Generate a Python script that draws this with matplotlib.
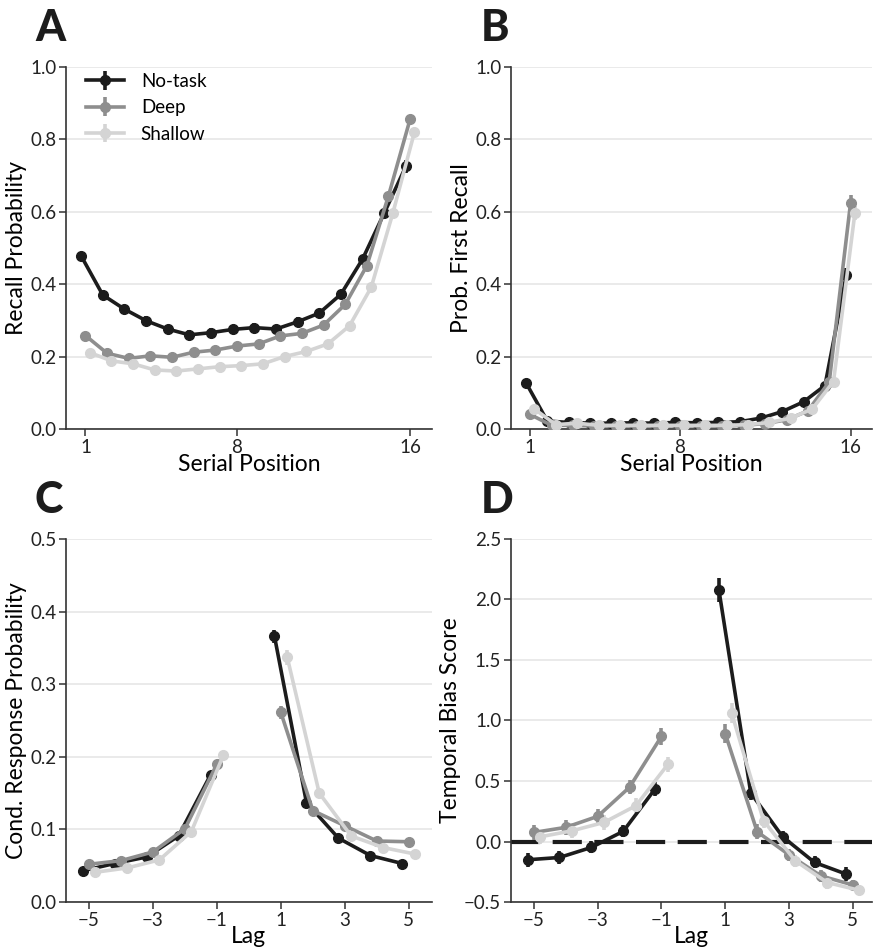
import numpy as np
import matplotlib
matplotlib.use("Agg")
import matplotlib.pyplot as plt

plt.rcParams['font.family'] = ['Lato', 'DejaVu Sans']

conditions = ["No-task", "Deep", "Shallow"]
colors = ["#1c1c1c", "#8e8e8e", "#d4d4d4"]
offsets = [-0.2, 0.0, 0.2]

serial_pos = np.arange(1, 17)
lags = np.array([-5, -4, -3, -2, -1, 1, 2, 3, 4, 5])

# A: serial position curve
spc = {
    "No-task": [0.478, 0.370, 0.331, 0.299, 0.276, 0.260, 0.266, 0.275,
                0.280, 0.276, 0.296, 0.320, 0.372, 0.469, 0.596, 0.725],
    "Deep": [0.258, 0.209, 0.195, 0.202, 0.198, 0.212, 0.218, 0.229,
             0.235, 0.257, 0.264, 0.287, 0.344, 0.451, 0.644, 0.856],
    "Shallow": [0.211, 0.188, 0.180, 0.163, 0.160, 0.166, 0.172, 0.175,
                0.180, 0.200, 0.214, 0.235, 0.285, 0.391, 0.596, 0.820],
}
spc_err = {
    "No-task": [0.012] * 15 + [0.018],
    "Deep": [0.010] * 15 + [0.012],
    "Shallow": [0.010] * 15 + [0.012],
}

# B: probability of first recall
pfr = {
    "No-task": [0.128, 0.022, 0.018, 0.016, 0.016, 0.017, 0.016, 0.018,
                0.017, 0.018, 0.020, 0.030, 0.048, 0.075, 0.120, 0.425],
    "Deep": [0.040, 0.010, 0.010, 0.008, 0.008, 0.008, 0.008, 0.009,
             0.008, 0.008, 0.010, 0.015, 0.025, 0.050, 0.130, 0.625],
    "Shallow": [0.055, 0.012, 0.016, 0.010, 0.010, 0.010, 0.010, 0.010,
                0.010, 0.010, 0.012, 0.018, 0.030, 0.055, 0.131, 0.596],
}
pfr_err = {
    "No-task": [0.01] * 15 + [0.02],
    "Deep": [0.006] * 15 + [0.02],
    "Shallow": [0.006] * 15 + [0.02],
}

# C: lag-CRP
crp = {
    "No-task": [0.043, 0.053, 0.062, 0.091, 0.175, 0.366, 0.137, 0.088, 0.064, 0.053],
    "Deep": [0.052, 0.057, 0.069, 0.101, 0.190, 0.261, 0.126, 0.105, 0.084, 0.083],
    "Shallow": [0.041, 0.047, 0.058, 0.097, 0.202, 0.337, 0.150, 0.091, 0.075, 0.066],
}
crp_err = {
    "No-task": [0.003, 0.003, 0.003, 0.004, 0.006, 0.009, 0.005, 0.004, 0.003, 0.003],
    "Deep": [0.003, 0.003, 0.003, 0.004, 0.006, 0.009, 0.005, 0.004, 0.003, 0.003],
    "Shallow": [0.003, 0.003, 0.003, 0.004, 0.006, 0.010, 0.005, 0.004, 0.003, 0.003],
}

# D: temporal bias score
tbs = {
    "No-task": [-0.151, -0.132, -0.049, 0.084, 0.435, 2.080, 0.401, 0.039, -0.173, -0.270],
    "Deep": [0.075, 0.117, 0.208, 0.449, 0.869, 0.891, 0.081, -0.110, -0.284, -0.359],
    "Shallow": [0.039, 0.089, 0.158, 0.296, 0.637, 1.062, 0.172, -0.160, -0.339, -0.403],
}
tbs_err = {
    "No-task": [0.06, 0.05, 0.05, 0.05, 0.06, 0.10, 0.06, 0.05, 0.05, 0.06],
    "Deep": [0.06, 0.06, 0.06, 0.06, 0.07, 0.08, 0.06, 0.05, 0.05, 0.04],
    "Shallow": [0.06, 0.06, 0.06, 0.06, 0.06, 0.08, 0.06, 0.05, 0.05, 0.04],
}


def style_axes(ax, ylim, yticks):
    ax.set_ylim(*ylim)
    ax.set_yticks(yticks)
    ax.yaxis.grid(True, color="#e6e6e6", linewidth=1.2, zorder=0)
    ax.set_axisbelow(True)
    for side in ["top", "right"]:
        ax.spines[side].set_visible(False)
    for side in ["left", "bottom"]:
        ax.spines[side].set_color("#333333")
        ax.spines[side].set_linewidth(1.2)
    ax.tick_params(axis="both", labelsize=13.5, colors="#333333",
                   length=5, width=1.1, labelcolor="#222222")
    ax.tick_params(axis="x", pad=2)
    ax.tick_params(axis="y", pad=2)


def draw_series(ax, x, data, err, split=False):
    for cond, col, off in zip(conditions, colors, offsets):
        y = np.array(data[cond])
        e = np.array(err[cond])
        xs = x + off
        if split:
            parts = [x < 0, x > 0]
        else:
            parts = [np.ones_like(x, dtype=bool)]
        for i, m in enumerate(parts):
            ax.errorbar(xs[m], y[m], yerr=e[m], fmt="-o", color=col,
                        markersize=7, linewidth=2.6, elinewidth=2.6,
                        capsize=0, label=cond if i == 0 else None, zorder=3)


fig = plt.figure(figsize=(8.73, 9.48), dpi=100)
axA = fig.add_axes([0.0756, 0.5475, 0.419, 0.3819])
axB = fig.add_axes([0.5853, 0.5475, 0.4135, 0.3819])
axC = fig.add_axes([0.0756, 0.0485, 0.419, 0.383])
axD = fig.add_axes([0.5853, 0.0485, 0.4135, 0.383])

# A
draw_series(axA, serial_pos.astype(float), spc, spc_err)
style_axes(axA, (0, 1.0), np.arange(0, 1.01, 0.2))
axA.set_xlim(0.1, 17)
axA.set_xticks([1, 8, 16])
axA.set_yticklabels([f"{v:.1f}" for v in np.arange(0, 1.01, 0.2)])
axA.set_xlabel("Serial Position", fontsize=16.5, labelpad=-1)
axA.set_ylabel("Recall Probability", fontsize=16.5, labelpad=2)
axA.legend(loc="upper left", frameon=False, fontsize=13.5,
           handlelength=2.0, borderaxespad=0.3, labelspacing=0.5,
           handletextpad=0.9, bbox_to_anchor=(0.02, 1.02))

# B
draw_series(axB, serial_pos.astype(float), pfr, pfr_err)
style_axes(axB, (0, 1.0), np.arange(0, 1.01, 0.2))
axB.set_xlim(0.1, 17)
axB.set_xticks([1, 8, 16])
axB.set_yticklabels([f"{v:.1f}" for v in np.arange(0, 1.01, 0.2)])
axB.set_xlabel("Serial Position", fontsize=16.5, labelpad=-1)
axB.set_ylabel("Prob. First Recall", fontsize=16.5, labelpad=2)

# C
draw_series(axC, lags.astype(float), crp, crp_err, split=True)
style_axes(axC, (0, 0.5), np.arange(0, 0.51, 0.1))
axC.set_xlim(-5.72, 5.72)
axC.set_xticks([-5, -3, -1, 1, 3, 5])
axC.set_yticklabels([f"{v:.1f}" for v in np.arange(0, 0.51, 0.1)])
axC.set_xlabel("Lag", fontsize=16.5, labelpad=-2)
axC.set_ylabel("Cond. Response Probability", fontsize=16.5, labelpad=2)

# D
axD.axhline(0, color="#1c1c1c", linestyle=(0, (7, 3)), linewidth=3, zorder=2)
draw_series(axD, lags.astype(float), tbs, tbs_err, split=True)
style_axes(axD, (-0.5, 2.5), np.arange(-0.5, 2.51, 0.5))
axD.set_xlim(-5.72, 5.6)
axD.set_xticks([-5, -3, -1, 1, 3, 5])
axD.set_yticklabels([f"{v:.1f}".replace("-", "\u2212") for v in np.arange(-0.5, 2.51, 0.5)])
axD.set_xlabel("Lag", fontsize=16.5, labelpad=-2)
axD.set_ylabel("Temporal Bias Score", fontsize=16.5, labelpad=2)

for letter, x, y in [("A", 0.040, 0.970), ("B", 0.551, 0.970),
                     ("C", 0.040, 0.4726), ("D", 0.551, 0.4726)]:
    fig.text(x, y, letter, fontsize=31, fontweight="black", va="center",
             ha="left", color="#1c1c1c")

fig.savefig("out.png", dpi=100)
